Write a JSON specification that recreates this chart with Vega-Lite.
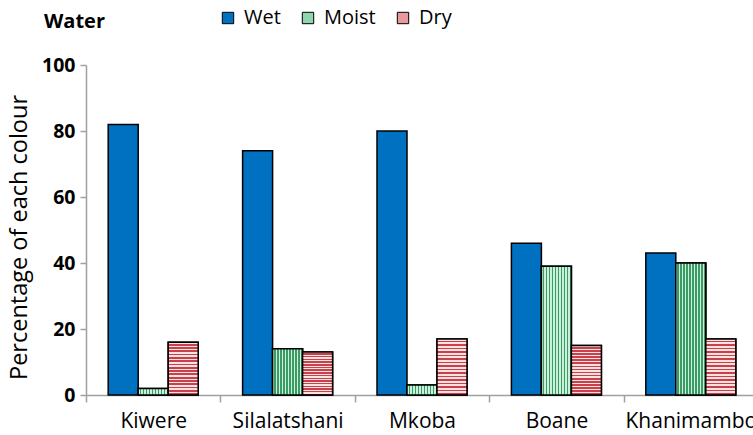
{
  "$schema": "https://vega.github.io/schema/vega-lite/v6.json",
  "autosize": "none",
  "width": 672,
  "height": 330,
  "padding": {"left": 86, "top": 65, "right": 0, "bottom": 40},
  "background": "white",
  "title": {"text": "Water", "anchor": "start", "frame": "group", "dx": -42, "offset": -24, "font": "Open Sans", "fontSize": 20, "fontWeight": "bold", "color": "black"},
  "data": {"values": [
    {"site": "Kiwere", "type": "Wet", "value": 82},
    {"site": "Kiwere", "type": "Moist", "value": 2},
    {"site": "Kiwere", "type": "Dry", "value": 16},
    {"site": "Silalatshani", "type": "Wet", "value": 74},
    {"site": "Silalatshani", "type": "Moist", "value": 14},
    {"site": "Silalatshani", "type": "Dry", "value": 13},
    {"site": "Mkoba", "type": "Wet", "value": 80},
    {"site": "Mkoba", "type": "Moist", "value": 3},
    {"site": "Mkoba", "type": "Dry", "value": 17},
    {"site": "Boane", "type": "Wet", "value": 46},
    {"site": "Boane", "type": "Moist", "value": 39},
    {"site": "Boane", "type": "Dry", "value": 15},
    {"site": "Khanimambo", "type": "Wet", "value": 43},
    {"site": "Khanimambo", "type": "Moist", "value": 40},
    {"site": "Khanimambo", "type": "Dry", "value": 17}
  ]},
  "encoding": {
    "x": {"field": "site", "type": "nominal", "sort": ["Kiwere", "Silalatshani", "Mkoba", "Boane", "Khanimambo"],
      "scale": {"paddingInner": 0, "paddingOuter": 0},
      "axis": {"title": null, "labelAngle": 0, "tickBand": "extent", "labelFont": "Open Sans", "labelFontSize": 21, "labelColor": "black", "labelPadding": 8, "labelOverlap": false, "domainColor": "#a0a0a0", "domainWidth": 1.5, "tickColor": "#a0a0a0", "tickWidth": 1.5, "tickSize": 7}},
    "xOffset": {"field": "type", "type": "nominal", "sort": ["Wet", "Moist", "Dry"], "scale": {"domain": ["Wet", "Moist", "Dry"], "paddingInner": 0, "paddingOuter": 0.74}},
    "y": {"field": "value", "type": "quantitative", "scale": {"domain": [0, 100]},
      "axis": {"title": "Percentage of each colour", "titleFont": "Open Sans", "titleFontSize": 23.5, "titleFontWeight": "normal", "titleColor": "black", "titlePadding": 10, "titleY": 172, "values": [0, 20, 40, 60, 80, 100], "grid": false, "labelFont": "Open Sans", "labelFontSize": 19.5, "labelFontWeight": "bold", "labelColor": "black", "labelPadding": 5, "domainColor": "#a0a0a0", "domainWidth": 1.5, "tickColor": "#a0a0a0", "tickWidth": 1.5, "tickSize": 6}}
  },
  "layer": [
    {
      "mark": {"type": "bar", "stroke": "black", "strokeWidth": 1.5},
      "encoding": {
        "fill": {"field": "type", "type": "nominal", "scale": {"domain": ["Wet", "Moist", "Dry"], "range": ["#0070c0", "#8fd6ae", "#e69a9e"]},
          "legend": {"title": null, "orient": "none", "direction": "horizontal", "legendX": 132, "legendY": -57, "symbolType": "square", "symbolSize": 130, "symbolStrokeColor": "black", "symbolStrokeWidth": 1, "labelFont": "Open Sans", "labelFontSize": 20, "labelColor": "black", "labelOffset": 6, "columnPadding": 17}}
      }
    },
    {
      "transform": [{"filter": "datum.type === 'Moist'"}],
      "mark": {"type": "bar", "stroke": "black", "strokeWidth": 1.5,
        "fill": {"gradient": "linear", "x1": 0, "y1": 0, "x2": 1, "y2": 0, "stops": [
          {"offset": 0, "color": "#c8f0da"}, {"offset": 0.055, "color": "#c8f0da"}, {"offset": 0.055, "color": "#3c9a64"}, {"offset": 0.1, "color": "#3c9a64"},
          {"offset": 0.1, "color": "#c8f0da"}, {"offset": 0.155, "color": "#c8f0da"}, {"offset": 0.155, "color": "#3c9a64"}, {"offset": 0.2, "color": "#3c9a64"},
          {"offset": 0.2, "color": "#c8f0da"}, {"offset": 0.255, "color": "#c8f0da"}, {"offset": 0.255, "color": "#3c9a64"}, {"offset": 0.3, "color": "#3c9a64"},
          {"offset": 0.3, "color": "#c8f0da"}, {"offset": 0.355, "color": "#c8f0da"}, {"offset": 0.355, "color": "#3c9a64"}, {"offset": 0.4, "color": "#3c9a64"},
          {"offset": 0.4, "color": "#c8f0da"}, {"offset": 0.455, "color": "#c8f0da"}, {"offset": 0.455, "color": "#3c9a64"}, {"offset": 0.5, "color": "#3c9a64"},
          {"offset": 0.5, "color": "#c8f0da"}, {"offset": 0.555, "color": "#c8f0da"}, {"offset": 0.555, "color": "#3c9a64"}, {"offset": 0.6, "color": "#3c9a64"},
          {"offset": 0.6, "color": "#c8f0da"}, {"offset": 0.655, "color": "#c8f0da"}, {"offset": 0.655, "color": "#3c9a64"}, {"offset": 0.7, "color": "#3c9a64"},
          {"offset": 0.7, "color": "#c8f0da"}, {"offset": 0.755, "color": "#c8f0da"}, {"offset": 0.755, "color": "#3c9a64"}, {"offset": 0.8, "color": "#3c9a64"},
          {"offset": 0.8, "color": "#c8f0da"}, {"offset": 0.855, "color": "#c8f0da"}, {"offset": 0.855, "color": "#3c9a64"}, {"offset": 0.9, "color": "#3c9a64"},
          {"offset": 0.9, "color": "#c8f0da"}, {"offset": 0.955, "color": "#c8f0da"}, {"offset": 0.955, "color": "#3c9a64"}, {"offset": 1, "color": "#3c9a64"}
        ]}},
      "encoding": {}
    },
    {
      "transform": [{"filter": "datum.type === 'Dry'"}],
      "mark": {"type": "bar", "stroke": "black", "strokeWidth": 1.5,
        "fill": {"gradient": "linear", "x1": 0, "y1": 0, "x2": 0, "y2": 1, "stops": [
          {"offset": 0, "color": "#fbe2e2"}, {"offset": 0.03, "color": "#fbe2e2"}, {"offset": 0.03, "color": "#c8404a"}, {"offset": 0.0625, "color": "#c8404a"},
          {"offset": 0.0625, "color": "#fbe2e2"}, {"offset": 0.0925, "color": "#fbe2e2"}, {"offset": 0.0925, "color": "#c8404a"}, {"offset": 0.125, "color": "#c8404a"},
          {"offset": 0.125, "color": "#fbe2e2"}, {"offset": 0.155, "color": "#fbe2e2"}, {"offset": 0.155, "color": "#c8404a"}, {"offset": 0.1875, "color": "#c8404a"},
          {"offset": 0.1875, "color": "#fbe2e2"}, {"offset": 0.2175, "color": "#fbe2e2"}, {"offset": 0.2175, "color": "#c8404a"}, {"offset": 0.25, "color": "#c8404a"},
          {"offset": 0.25, "color": "#fbe2e2"}, {"offset": 0.28, "color": "#fbe2e2"}, {"offset": 0.28, "color": "#c8404a"}, {"offset": 0.3125, "color": "#c8404a"},
          {"offset": 0.3125, "color": "#fbe2e2"}, {"offset": 0.3425, "color": "#fbe2e2"}, {"offset": 0.3425, "color": "#c8404a"}, {"offset": 0.375, "color": "#c8404a"},
          {"offset": 0.375, "color": "#fbe2e2"}, {"offset": 0.405, "color": "#fbe2e2"}, {"offset": 0.405, "color": "#c8404a"}, {"offset": 0.4375, "color": "#c8404a"},
          {"offset": 0.4375, "color": "#fbe2e2"}, {"offset": 0.4675, "color": "#fbe2e2"}, {"offset": 0.4675, "color": "#c8404a"}, {"offset": 0.5, "color": "#c8404a"},
          {"offset": 0.5, "color": "#fbe2e2"}, {"offset": 0.53, "color": "#fbe2e2"}, {"offset": 0.53, "color": "#c8404a"}, {"offset": 0.5625, "color": "#c8404a"},
          {"offset": 0.5625, "color": "#fbe2e2"}, {"offset": 0.5925, "color": "#fbe2e2"}, {"offset": 0.5925, "color": "#c8404a"}, {"offset": 0.625, "color": "#c8404a"},
          {"offset": 0.625, "color": "#fbe2e2"}, {"offset": 0.655, "color": "#fbe2e2"}, {"offset": 0.655, "color": "#c8404a"}, {"offset": 0.6875, "color": "#c8404a"},
          {"offset": 0.6875, "color": "#fbe2e2"}, {"offset": 0.7175, "color": "#fbe2e2"}, {"offset": 0.7175, "color": "#c8404a"}, {"offset": 0.75, "color": "#c8404a"},
          {"offset": 0.75, "color": "#fbe2e2"}, {"offset": 0.78, "color": "#fbe2e2"}, {"offset": 0.78, "color": "#c8404a"}, {"offset": 0.8125, "color": "#c8404a"},
          {"offset": 0.8125, "color": "#fbe2e2"}, {"offset": 0.8425, "color": "#fbe2e2"}, {"offset": 0.8425, "color": "#c8404a"}, {"offset": 0.875, "color": "#c8404a"},
          {"offset": 0.875, "color": "#fbe2e2"}, {"offset": 0.905, "color": "#fbe2e2"}, {"offset": 0.905, "color": "#c8404a"}, {"offset": 0.9375, "color": "#c8404a"},
          {"offset": 0.9375, "color": "#fbe2e2"}, {"offset": 0.9675, "color": "#fbe2e2"}, {"offset": 0.9675, "color": "#c8404a"}, {"offset": 1, "color": "#c8404a"}
        ]}},
      "encoding": {}
    }
  ],
  "config": {"view": {"stroke": null}}
}
